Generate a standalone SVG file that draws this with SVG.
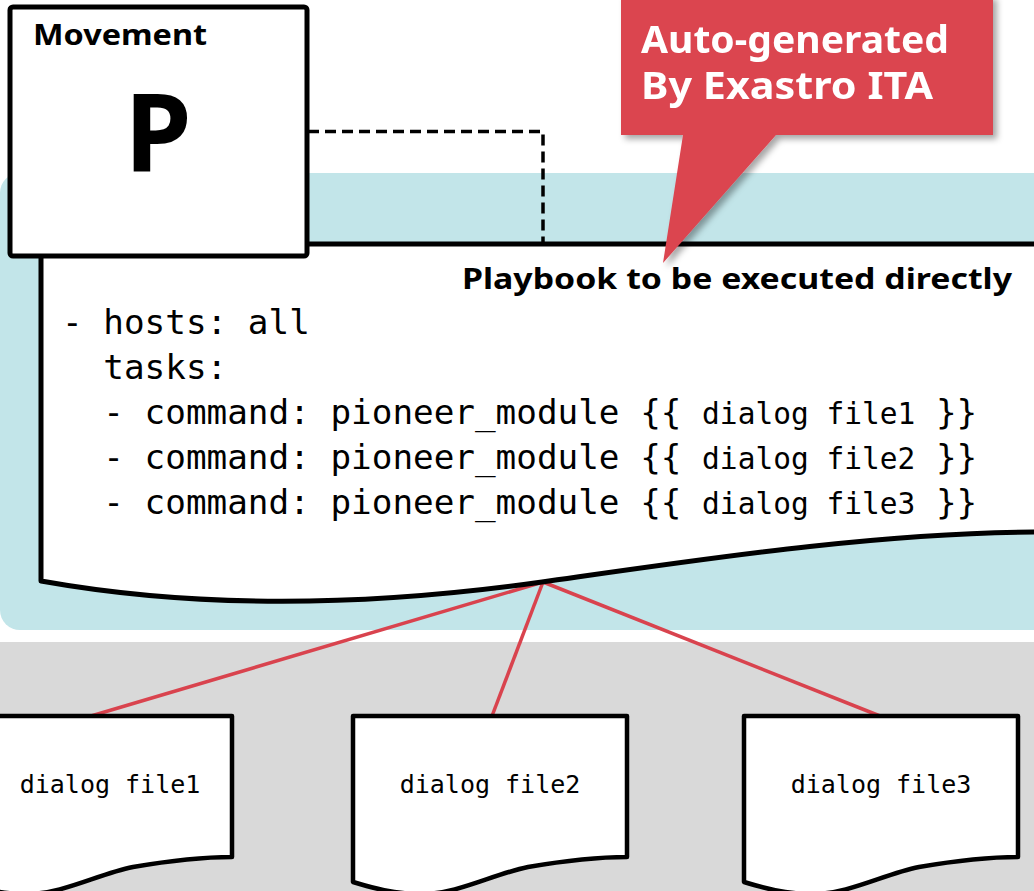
<svg xmlns="http://www.w3.org/2000/svg" width="1034" height="891" viewBox="0 0 1034 891">
  <style>
    .outline { fill: #ffffff; stroke: #000000; stroke-width: 5; stroke-linejoin: round; }
    .doc { fill: #ffffff; stroke: #000000; stroke-width: 4.5; stroke-linejoin: round; }
    .bold { font-family: "Noto Sans", "DejaVu Sans", sans-serif; font-weight: 700; }
    .mono { font-family: "DejaVu Sans Mono", "Liberation Mono", monospace; fill: #000000; }
    .link { stroke: #D9434E; stroke-width: 3.5; fill: none; }
    .dash { stroke: #000000; stroke-width: 3.5; fill: none; stroke-dasharray: 11 6; }
  </style>
  <defs>
    <filter id="callout-shadow" x="-10%" y="-10%" width="125%" height="130%">
      <feDropShadow dx="4" dy="4" stdDeviation="3" flood-color="#000000" flood-opacity="0.35"/>
    </filter>
    <!-- document outline with wavy bottom, local origin at top-left -->
    <path id="page" d="M0,0 H274 V141 C247,141 210,145 175,151 C140,158 105,178 69,178 C40,178 20,172 0,166 Z"/>
  </defs>

  <!-- background bands -->
  <rect x="0" y="642" width="1034" height="249" fill="#D9D9D9"/>
  <path d="M20,173 H1034 V630 H20 A20,20 0 0 1 0,610 V193 A20,20 0 0 1 20,173 Z" fill="#C2E5E9"/>

  <!-- connectors -->
  <g id="connectors">
    <path class="dash" d="M308,131.5 H543 V242"/>
    <line class="link" x1="543" y1="582" x2="91" y2="716"/>
    <line class="link" x1="543" y1="582" x2="492" y2="716"/>
    <line class="link" x1="543" y1="582" x2="880" y2="716"/>
  </g>

  <!-- playbook document -->
  <g id="playbook">
    <path class="outline" d="M1040,244 H41 V581 C170,604 330,612 542,582 C700,559.6 880,532 1040,532"/>
    <text class="bold" x="462" y="289" font-size="28" textLength="550" lengthAdjust="spacingAndGlyphs">Playbook to be executed directly</text>
    <g class="mono" font-size="34.3">
      <text x="62" y="334" xml:space="preserve">- hosts: all</text>
      <text x="62" y="379" xml:space="preserve">  tasks:</text>
      <text x="62" y="424" xml:space="preserve">  - command: pioneer_module {{ <tspan font-size="29.5">dialog file1</tspan> }}</text>
      <text x="62" y="469" xml:space="preserve">  - command: pioneer_module {{ <tspan font-size="29.5">dialog file2</tspan> }}</text>
      <text x="62" y="514" xml:space="preserve">  - command: pioneer_module {{ <tspan font-size="29.5">dialog file3</tspan> }}</text>
    </g>
  </g>

  <!-- movement node -->
  <g id="movement">
    <rect class="outline" x="10" y="7" width="297" height="249" rx="3"/>
    <text class="bold" x="33" y="45" font-size="29" textLength="174" lengthAdjust="spacingAndGlyphs">Movement</text>
    <text class="bold" x="158" y="171" font-size="108" text-anchor="middle">P</text>
  </g>

  <!-- callout -->
  <g id="callout" filter="url(#callout-shadow)">
    <path d="M621,-5 H993 V135 H776 L663,263 L683,135 H621 Z" fill="#DB4450"/>
    <text class="bold" x="641" y="53" font-size="37" fill="#ffffff" textLength="308" lengthAdjust="spacingAndGlyphs">Auto-generated</text>
    <text class="bold" x="641" y="99" font-size="37" fill="#ffffff" textLength="292" lengthAdjust="spacingAndGlyphs">By Exastro ITA</text>
  </g>

  <!-- dialog files -->
  <g id="dialog-file1">
    <use href="#page" class="doc" transform="translate(-42,716)"/>
    <text class="mono" x="110" y="793" font-size="25" text-anchor="middle">dialog file1</text>
  </g>
  <g id="dialog-file2">
    <use href="#page" class="doc" transform="translate(353,716)"/>
    <text class="mono" x="490" y="793" font-size="25" text-anchor="middle">dialog file2</text>
  </g>
  <g id="dialog-file3">
    <use href="#page" class="doc" transform="translate(744,716)"/>
    <text class="mono" x="881" y="793" font-size="25" text-anchor="middle">dialog file3</text>
  </g>
</svg>
